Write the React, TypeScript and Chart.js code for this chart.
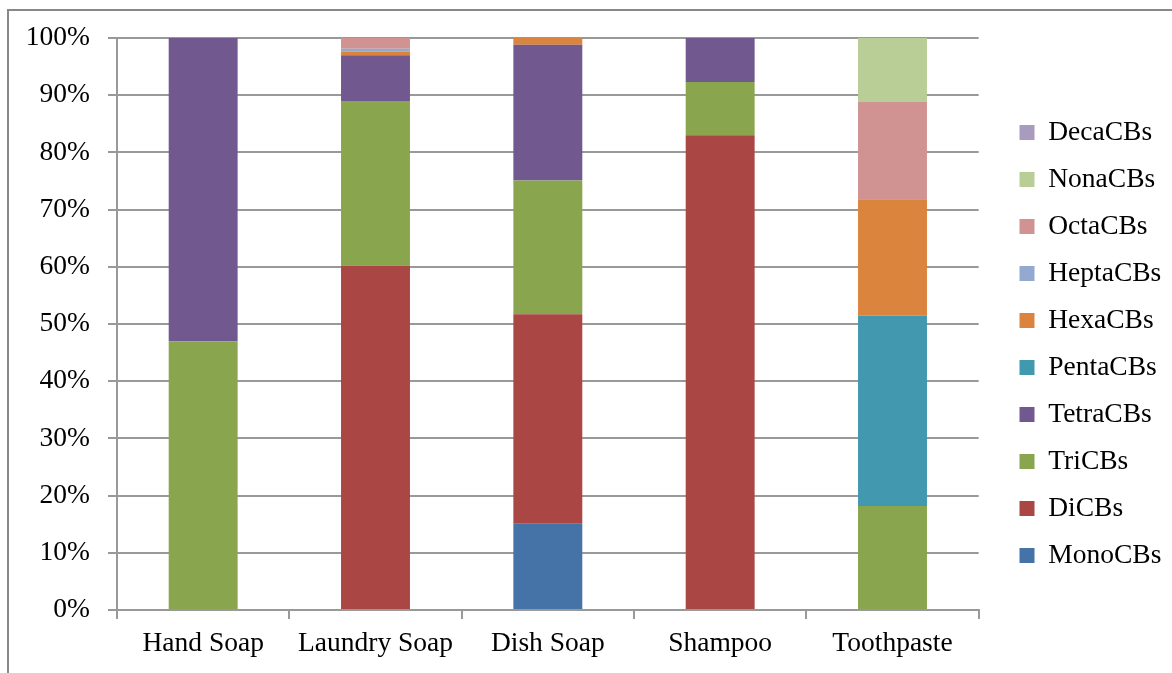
import React, { useEffect, useRef } from "react";
import { Chart, registerables } from "chart.js";

Chart.register(...registerables);

const categories = ["Hand Soap", "Laundry Soap", "Dish Soap", "Shampoo", "Toothpaste"];
const seriesNames = ["MonoCBs", "DiCBs", "TriCBs", "TetraCBs", "PentaCBs", "HexaCBs", "HeptaCBs", "OctaCBs", "NonaCBs", "DecaCBs"];
const monoCBs = [0, 0, 15.1, 0, 0];
const diCBs = [0, 60.2, 36.6, 83.0, 0];
const triCBs = [47.0, 28.8, 23.4, 9.3, 18.2];
const tetraCBs = [53.0, 8.0, 23.7, 7.7, 0];
const pentaCBs = [0, 0, 0, 0, 33.3];
const hexaCBs = [0, 0.6, 1.2, 0, 20.3];
const heptaCBs = [0, 0.5, 0, 0, 0];
const octaCBs = [0, 1.9, 0, 0, 17.1];
const nonaCBs = [0, 0, 0, 0, 11.1];
const decaCBs = [0, 0, 0, 0, 0];
const yTicks = [0, 10, 20, 30, 40, 50, 60, 70, 80, 90, 100];

const seriesValues = [monoCBs, diCBs, triCBs, tetraCBs, pentaCBs, hexaCBs, heptaCBs, octaCBs, nonaCBs, decaCBs];
const colors = ["#4572A7", "#AA4643", "#89A54E", "#71588F", "#4198AF", "#DB843D", "#93A9CF", "#D19392", "#B9CD96", "#A99BBD"];

const FONT = "'Liberation Serif', 'Times New Roman', serif";
const FONT_SIZE = 27.5;

export default function App() {
  const ref = useRef<HTMLCanvasElement | null>(null);
  useEffect(() => {
    if (!ref.current) return;
    const legendShift = {
      id: "legendShift",
      afterLayout(chart: any) {
        const lg = chart.legend;
        if (lg) {
          const w = lg.right - lg.left;
          lg.left = 1000;
          lg.right = 1000 + w;
          lg.top -= 9;
          lg.bottom -= 9;
        }
      },
    };
    const chart = new Chart(ref.current, {
      type: "bar",
      data: {
        labels: categories,
        datasets: seriesNames.map((name, i) => ({
          label: name,
          data: seriesValues[i],
          backgroundColor: colors[i],
          borderWidth: 0,
          barPercentage: 1,
          categoryPercentage: 0.4,
        })),
      },
      options: {
        responsive: false,
        animation: false,
        layout: { padding: { top: 38, bottom: 5, left: 0, right: 22 } },
        plugins: {
          legend: {
            position: "right",
            reverse: true,
            labels: {
              boxWidth: 15,
              boxHeight: 15,
              padding: 19.5,
              color: "#000",
              font: { family: FONT, size: FONT_SIZE },
            },
          },
          tooltip: { enabled: false },
        },
        scales: {
          x: {
            stacked: true,
            grid: {
              drawOnChartArea: false,
              drawTicks: true,
              tickLength: 9,
              color: "#999",
              lineWidth: 2,
              offset: true,
            },
            border: { display: true, color: "#999", width: 2 },
            ticks: { color: "#000", padding: 8, font: { family: FONT, size: FONT_SIZE } },
          },
          y: {
            stacked: true,
            min: 0,
            max: 100,
            afterBuildTicks(scale: any) {
              scale.ticks = yTicks.map((v) => ({ value: v }));
            },
            afterFit(scale: any) {
              scale.width = 117;
            },
            grid: { color: "#999", lineWidth: 2, tickLength: 9, drawTicks: true },
            border: { display: true, color: "#999", width: 2 },
            ticks: {
              color: "#000",
              padding: 18,
              font: { family: FONT, size: FONT_SIZE },
              callback: (v: any) => v + "%",
            },
          },
        },
      },
      plugins: [legendShift],
    });
    return () => chart.destroy();
  }, []);
  return (
    <div style={{ position: "absolute", left: 0, top: 0, width: 1172, height: 673, overflow: "hidden", background: "#fff" }}>
      <div
        style={{
          position: "absolute",
          left: 7,
          top: 9,
          width: 1200,
          height: 700,
          borderLeft: "2px solid #888",
          borderTop: "2px solid #888",
        }}
      />
      <canvas ref={ref} width={1172} height={673} style={{ position: "absolute", left: 0, top: 0, display: "block" }} />
    </div>
  );
}
